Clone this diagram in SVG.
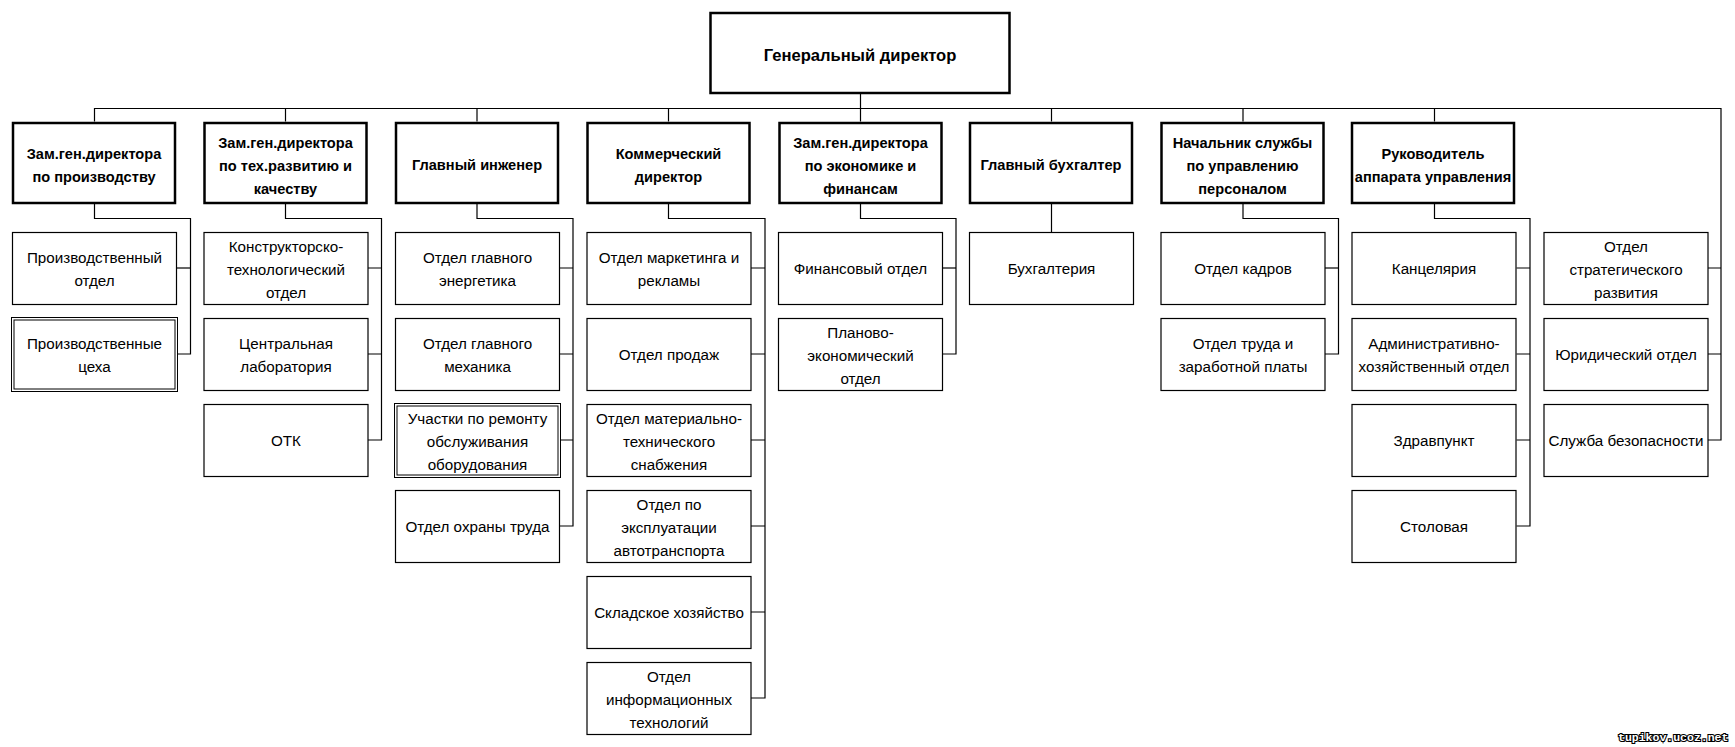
<svg xmlns="http://www.w3.org/2000/svg" width="1735" height="747" viewBox="0 0 1735 747">
<style>
  .bg { fill: #ffffff; }
  .hd { fill: #ffffff; stroke: #000000; stroke-width: 2.5; }
  .bx { fill: #ffffff; stroke: #000000; stroke-width: 1.2; }
  .dbl { fill: none; stroke: #000000; stroke-width: 1; }
  .ln { fill: none; stroke: #000000; stroke-width: 1.2; }
  text { font-family: "Liberation Sans", Arial, sans-serif; font-size: 15.2px; fill: #000000; text-anchor: middle; }
  .b { font-weight: bold; font-size: 14.6px; }
  .top { font-weight: bold; font-size: 16.6px; }
  .wm { font-family: "Liberation Mono", "DejaVu Sans Mono", monospace; font-size: 11.5px; font-weight: bold; fill: #ffffff; stroke: #000000; stroke-width: 2.2; paint-order: stroke; text-anchor: start; }
</style>
<rect class="bg" x="0" y="0" width="1735" height="747"/>

<g id="connectors">
  <path class="ln" d="M860.5 94 V108.5"/>
  <path class="ln" d="M94.5 121.5 V108.5 H1721 V440 H1708"/>
  <path class="ln" d="M285.5 108.5 V121.5"/>
  <path class="ln" d="M477 108.5 V121.5"/>
  <path class="ln" d="M668.5 108.5 V121.5"/>
  <path class="ln" d="M860.5 108.5 V121.5"/>
  <path class="ln" d="M1051.5 108.5 V121.5"/>
  <path class="ln" d="M1243 108.5 V121.5"/>
  <path class="ln" d="M1434.5 108.5 V121.5"/>
  <path class="ln" d="M94.5 204 V218.5 H190.5 V354 H178"/>
  <path class="ln" d="M176 268 H190.5"/>
  <path class="ln" d="M285.5 204 V218.5 H381.5 V440 H367.5"/>
  <path class="ln" d="M367.5 268 H381.5 M367.5 354 H381.5"/>
  <path class="ln" d="M477 204 V218.5 H573 V526 H559"/>
  <path class="ln" d="M559 268 H573 M559 354 H573 M560 440 H573"/>
  <path class="ln" d="M668.5 204 V218.5 H765 V698 H750.5"/>
  <path class="ln" d="M750.5 268 H765 M750.5 354 H765 M750.5 440 H765 M750.5 526 H765 M750.5 612 H765"/>
  <path class="ln" d="M860.5 204 V218.5 H956 V354 H942"/>
  <path class="ln" d="M942 268 H956"/>
  <path class="ln" d="M1051.5 204 V232"/>
  <path class="ln" d="M1243 204 V218.5 H1338.5 V354 H1325"/>
  <path class="ln" d="M1325 268 H1338.5"/>
  <path class="ln" d="M1434.5 204 V218.5 H1530 V526 H1516.5"/>
  <path class="ln" d="M1516.5 268 H1530 M1516.5 354 H1530 M1516.5 440 H1530"/>
  <path class="ln" d="M1708 268 H1721 M1708 354 H1721"/>
</g>

<g id="n-gen">
  <rect class="hd" x="710.5" y="13" width="299" height="80"/>
  <text class="top" x="860" y="60.5">Генеральный директор</text>
</g>

<g id="n-c1">
  <rect class="hd" x="13" y="123" width="162" height="80"/>
  <text class="b" x="94" y="158.5">Зам.ген.директора</text>
  <text class="b" x="94" y="181.5">по производству</text>
</g>
<g id="n-c1-1">
  <rect class="bx" x="12.5" y="232.5" width="164" height="72"/>
  <text x="94.5" y="262.5">Производственный</text>
  <text x="94.5" y="285.5">отдел</text>
</g>
<g id="n-c1-2">
  <rect class="dbl" x="11.5" y="317.5" width="166" height="74"/>
  <rect class="dbl" x="14" y="320" width="161" height="69"/>
  <text x="94.5" y="348.5">Производственные</text>
  <text x="94.5" y="371.5">цеха</text>
</g>

<g id="n-c2">
  <rect class="hd" x="204.5" y="123" width="162" height="80"/>
  <text class="b" x="285.5" y="147.5">Зам.ген.директора</text>
  <text class="b" x="285.5" y="170.5">по тех.развитию и</text>
  <text class="b" x="285.5" y="193.5">качеству</text>
</g>
<g id="n-c2-1">
  <rect class="bx" x="204" y="232.5" width="164" height="72"/>
  <text x="286" y="251.5">Конструкторско-</text>
  <text x="286" y="274.5">технологический</text>
  <text x="286" y="297.5">отдел</text>
</g>
<g id="n-c2-2">
  <rect class="bx" x="204" y="318.5" width="164" height="72"/>
  <text x="286" y="348.5">Центральная</text>
  <text x="286" y="371.5">лаборатория</text>
</g>
<g id="n-c2-3">
  <rect class="bx" x="204" y="404.5" width="164" height="72"/>
  <text x="286" y="446">ОТК</text>
</g>

<g id="n-c3">
  <rect class="hd" x="396" y="123" width="162" height="80"/>
  <text class="b" x="477" y="170">Главный инженер</text>
</g>
<g id="n-c3-1">
  <rect class="bx" x="395.5" y="232.5" width="164" height="72"/>
  <text x="477.5" y="262.5">Отдел главного</text>
  <text x="477.5" y="285.5">энергетика</text>
</g>
<g id="n-c3-2">
  <rect class="bx" x="395.5" y="318.5" width="164" height="72"/>
  <text x="477.5" y="348.5">Отдел главного</text>
  <text x="477.5" y="371.5">механика</text>
</g>
<g id="n-c3-3">
  <rect class="dbl" x="394.5" y="403.5" width="166" height="74"/>
  <rect class="dbl" x="397" y="406" width="161" height="69"/>
  <text x="477.5" y="423.5">Участки по ремонту</text>
  <text x="477.5" y="446.5">обслуживания</text>
  <text x="477.5" y="469.5">оборудования</text>
</g>
<g id="n-c3-4">
  <rect class="bx" x="395.5" y="490.5" width="164" height="72"/>
  <text x="477.5" y="531.5">Отдел охраны труда</text>
</g>

<g id="n-c4">
  <rect class="hd" x="587.5" y="123" width="162" height="80"/>
  <text class="b" x="668.5" y="158.5">Коммерческий</text>
  <text class="b" x="668.5" y="181.5">директор</text>
</g>
<g id="n-c4-1">
  <rect class="bx" x="587" y="232.5" width="164" height="72"/>
  <text x="669" y="262.5">Отдел маркетинга и</text>
  <text x="669" y="285.5">рекламы</text>
</g>
<g id="n-c4-2">
  <rect class="bx" x="587" y="318.5" width="164" height="72"/>
  <text x="669" y="360">Отдел продаж</text>
</g>
<g id="n-c4-3">
  <rect class="bx" x="587" y="404.5" width="164" height="72"/>
  <text x="669" y="423.5">Отдел материально-</text>
  <text x="669" y="446.5">технического</text>
  <text x="669" y="469.5">снабжения</text>
</g>
<g id="n-c4-4">
  <rect class="bx" x="587" y="490.5" width="164" height="72"/>
  <text x="669" y="509.5">Отдел по</text>
  <text x="669" y="532.5">эксплуатации</text>
  <text x="669" y="555.5">автотранспорта</text>
</g>
<g id="n-c4-5">
  <rect class="bx" x="587" y="576.5" width="164" height="72"/>
  <text x="669" y="618">Складское хозяйство</text>
</g>
<g id="n-c4-6">
  <rect class="bx" x="587" y="662.5" width="164" height="72"/>
  <text x="669" y="681.5">Отдел</text>
  <text x="669" y="704.5">информационных</text>
  <text x="669" y="727.5">технологий</text>
</g>

<g id="n-c5">
  <rect class="hd" x="779.5" y="123" width="162" height="80"/>
  <text class="b" x="860.5" y="147.5">Зам.ген.директора</text>
  <text class="b" x="860.5" y="170.5">по экономике и</text>
  <text class="b" x="860.5" y="193.5">финансам</text>
</g>
<g id="n-c5-1">
  <rect class="bx" x="778.5" y="232.5" width="164" height="72"/>
  <text x="860.5" y="274">Финансовый отдел</text>
</g>
<g id="n-c5-2">
  <rect class="bx" x="778.5" y="318.5" width="164" height="72"/>
  <text x="860.5" y="337.5">Планово-</text>
  <text x="860.5" y="360.5">экономический</text>
  <text x="860.5" y="383.5">отдел</text>
</g>

<g id="n-c6">
  <rect class="hd" x="970" y="123" width="162" height="80"/>
  <text class="b" x="1051" y="170">Главный бухгалтер</text>
</g>
<g id="n-c6-1">
  <rect class="bx" x="969.5" y="232.5" width="164" height="72"/>
  <text x="1051.5" y="274">Бухгалтерия</text>
</g>

<g id="n-c7">
  <rect class="hd" x="1161.5" y="123" width="162" height="80"/>
  <text class="b" x="1242.5" y="147.5">Начальник службы</text>
  <text class="b" x="1242.5" y="170.5">по управлению</text>
  <text class="b" x="1242.5" y="193.5">персоналом</text>
</g>
<g id="n-c7-1">
  <rect class="bx" x="1161" y="232.5" width="164" height="72"/>
  <text x="1243" y="274">Отдел кадров</text>
</g>
<g id="n-c7-2">
  <rect class="bx" x="1161" y="318.5" width="164" height="72"/>
  <text x="1243" y="348.5">Отдел труда и</text>
  <text x="1243" y="371.5">заработной платы</text>
</g>

<g id="n-c8">
  <rect class="hd" x="1352" y="123" width="162" height="80"/>
  <text class="b" x="1433" y="158.5">Руководитель</text>
  <text class="b" x="1433" y="181.5">аппарата управления</text>
</g>
<g id="n-c8-1">
  <rect class="bx" x="1352" y="232.5" width="164" height="72"/>
  <text x="1434" y="274">Канцелярия</text>
</g>
<g id="n-c8-2">
  <rect class="bx" x="1352" y="318.5" width="164" height="72"/>
  <text x="1434" y="348.5">Административно-</text>
  <text x="1434" y="371.5">хозяйственный отдел</text>
</g>
<g id="n-c8-3">
  <rect class="bx" x="1352" y="404.5" width="164" height="72"/>
  <text x="1434" y="446">Здравпункт</text>
</g>
<g id="n-c8-4">
  <rect class="bx" x="1352" y="490.5" width="164" height="72"/>
  <text x="1434" y="532">Столовая</text>
</g>

<g id="n-c9-1">
  <rect class="bx" x="1544" y="232.5" width="164" height="72"/>
  <text x="1626" y="251.5">Отдел</text>
  <text x="1626" y="274.5">стратегического</text>
  <text x="1626" y="297.5">развития</text>
</g>
<g id="n-c9-2">
  <rect class="bx" x="1544" y="318.5" width="164" height="72"/>
  <text x="1626" y="360">Юридический отдел</text>
</g>
<g id="n-c9-3">
  <rect class="bx" x="1544" y="404.5" width="164" height="72"/>
  <text x="1626" y="446">Служба безопасности</text>
</g>

<text class="wm" x="1618" y="740.5">tupikov.ucoz.net</text>
</svg>
